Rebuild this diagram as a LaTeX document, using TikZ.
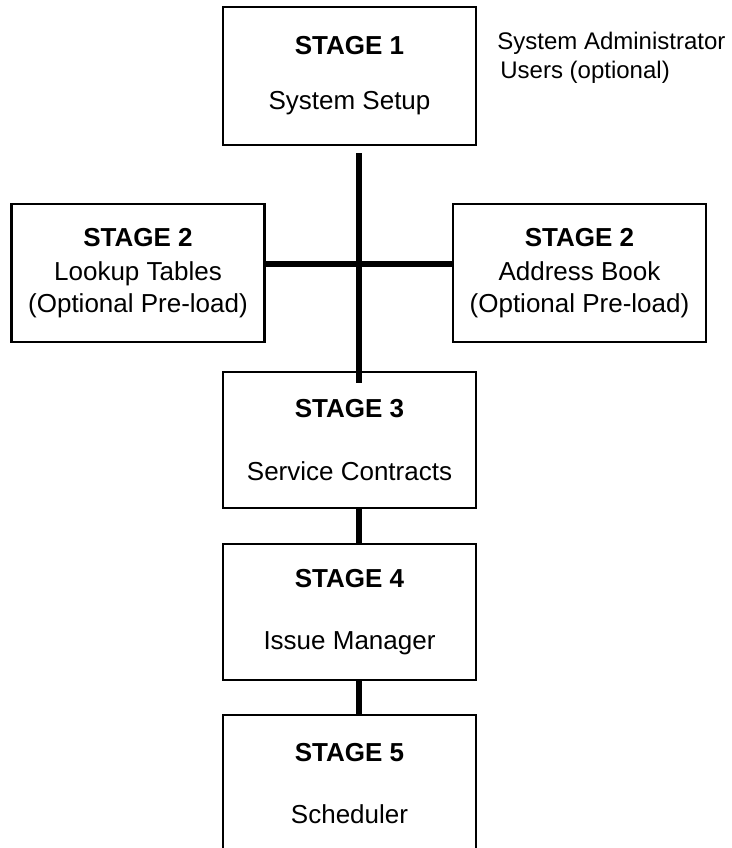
\documentclass[tikz,border=0pt]{standalone}
\usepackage{fontspec}
\setmainfont{Liberation Sans}
\begin{document}
\begin{tikzpicture}[x=0.5pt,y=-0.5pt,
  stagebox/.style={draw, line width=1.2pt, minimum width=126.5pt, minimum height=69pt,
    inner sep=0pt, align=center, font=\fontsize{13}{15.6}\selectfont},
  link/.style={line width=3pt}]
\useasboundingbox (0,0) rectangle (732,848);
\node[stagebox] (s1) at (349.5,76) {\textbf{STAGE 1}\\[11.9pt]System Setup};
\node[stagebox] (s2a) at (138,273) {\textbf{STAGE 2}\\[1.5pt]Lookup Tables\\(Optional Pre-load)};
\node[stagebox] (s2b) at (579.5,273) {\textbf{STAGE 2}\\[1.5pt]Address Book\\(Optional Pre-load)};
\node[stagebox, minimum height=68pt] (s3) at (349.5,440) {\textbf{STAGE 3}\\[15.9pt]Service Contracts};
\node[stagebox, minimum height=68pt] (s4) at (349.5,612) {\textbf{STAGE 4}\\[15.4pt]Issue Manager};
\node[stagebox] (s5) at (349.5,784) {\textbf{STAGE 5}\\[15.4pt]Scheduler};
\node[anchor=north west, inner sep=0pt, align=left, font=\fontsize{12}{14.5}\selectfont] (users) at (497,32)
  {System Administrator\\\hspace*{1.5pt}Users (optional)};
% connectors
\coordinate (hub) at (359,264);
\draw[link, shorten <=3.5pt, shorten >=-6pt] (s1.south -| hub) -- (s3.north -| hub);
\draw[link] (s2a.east |- hub) -- (s2b.west |- hub);
\draw[link] (s3.south -| hub) -- (s4.north -| hub);
\draw[link] (s4.south -| hub) -- (s5.north -| hub);
\end{tikzpicture}
\end{document}
